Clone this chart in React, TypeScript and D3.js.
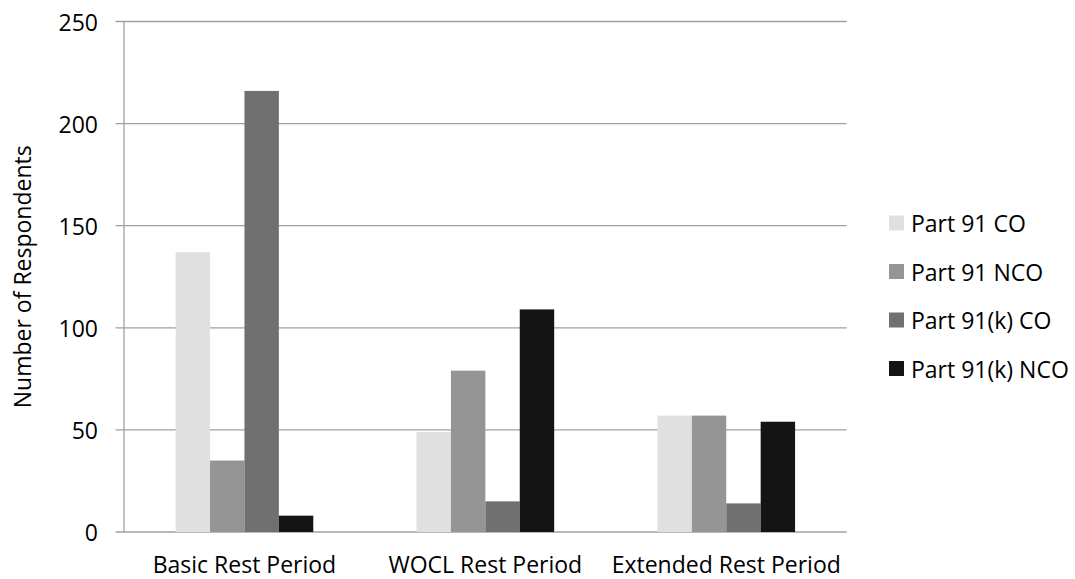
import React from "react";
import * as d3 from "d3";

const categories = ["Basic Rest Period", "WOCL Rest Period", "Extended Rest Period"];
const seriesNames = ["Part 91 CO", "Part 91 NCO", "Part 91(k) CO", "Part 91(k) NCO"];
const seriesColors = ["#e0e0e0", "#959595", "#707070", "#141414"];
const part91CO = [137, 49, 57];
const part91NCO = [35, 79, 57];
const part91kCO = [216, 15, 14];
const part91kNCO = [8, 109, 54];
const yTicks = [0, 50, 100, 150, 200, 250];

const seriesValues = [part91CO, part91NCO, part91kCO, part91kNCO];

const W = 1075;
const H = 579;
const left = 124;
const right = 846.7;
const top = 21.5;
const bottom = 532;
const FONT = "'Open Sans', sans-serif";
const FS = 23;

export default function App() {
  const x0 = d3.scaleBand<string>().domain(categories).range([left, right]).paddingInner(0).paddingOuter(0);
  const x1 = d3
    .scaleBand<string>()
    .domain(seriesNames)
    .range([0, x0.bandwidth()])
    .paddingInner(0)
    .paddingOuter(1.5);
  const y = d3.scaleLinear().domain([0, 250]).range([bottom, top]);

  return (
    <svg width={W} height={H} style={{ position: "absolute", left: 0, top: 0, background: "#fff" }}>
      <rect width={W} height={H} fill="#fff" />
      {/* gridlines with tick stubs */}
      {yTicks.map((t) => (
        <line key={t} x1={left - 8.5} x2={right} y1={y(t)} y2={y(t)} stroke="#a0a0a0" strokeWidth={1.3} />
      ))}
      <line x1={left} x2={left} y1={top} y2={bottom} stroke="#a0a0a0" strokeWidth={1.3} />
      {yTicks.map((t) => (
        <text
          key={"l" + t}
          x={98}
          y={y(t)}
          textAnchor="end"
          dominantBaseline="central"
          fontFamily={FONT}
          fontSize={FS}
          fill="#000"
        >
          {t}
        </text>
      ))}
      {/* bars */}
      {categories.map((c, ci) => (
        <g key={c} transform={`translate(${x0(c)},0)`}>
          {seriesNames.map((s, si) => {
            const v = seriesValues[si][ci];
            return (
              <rect
                key={s}
                x={x1(s)}
                y={y(v)}
                width={x1.bandwidth()}
                height={y(0) - y(v)}
                fill={seriesColors[si]}
              />
            );
          })}
        </g>
      ))}
      {/* category labels */}
      {categories.map((c) => (
        <text
          key={"c" + c}
          x={(x0(c) as number) + x0.bandwidth() / 2}
          y={573}
          textAnchor="middle"
          fontFamily={FONT}
          fontSize={FS}
          fill="#000"
        >
          {c}
        </text>
      ))}
      {/* y axis title */}
      <text
        transform={`translate(31,${(top + bottom) / 2}) rotate(-90)`}
        textAnchor="middle"
        fontFamily={FONT}
        fontSize={FS}
        fill="#000"
      >
        Number of Respondents
      </text>
      {/* legend */}
      {seriesNames.map((s, i) => {
        const cy = 223 + i * 48.5;
        return (
          <g key={"lg" + s}>
            <rect x={889} y={cy - 7.5} width={15} height={15} fill={seriesColors[i]} />
            <text x={911} y={cy} dominantBaseline="central" fontFamily={FONT} fontSize={FS} fill="#000">
              {s}
            </text>
          </g>
        );
      })}
    </svg>
  );
}
